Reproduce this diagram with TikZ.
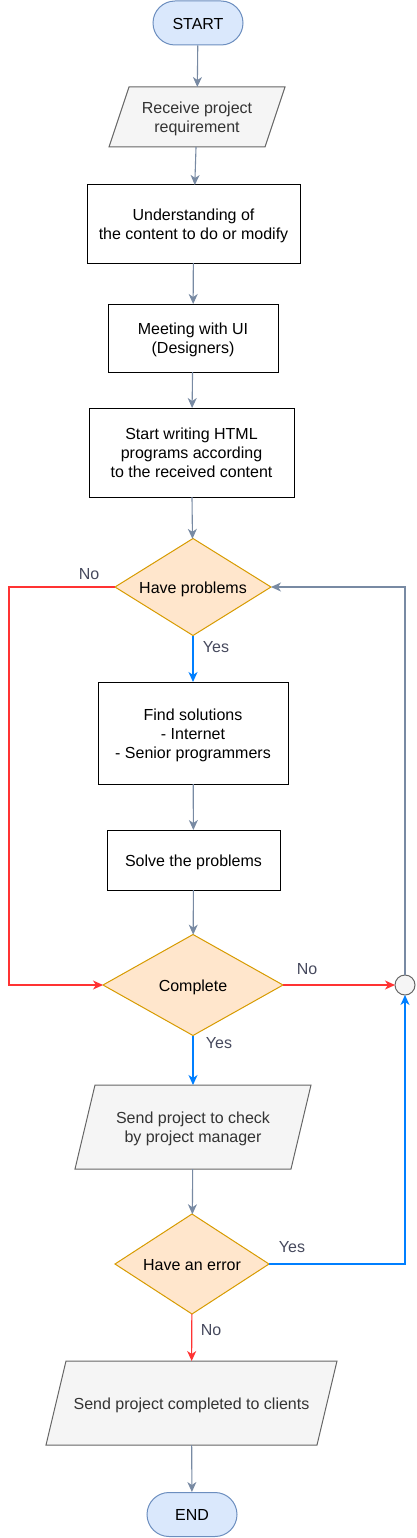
\documentclass[tikz,border=0pt]{standalone}
\usepackage{fontspec}
\setmainfont{Liberation Sans}
\usetikzlibrary{arrows.meta,shapes.geometric}
\pgfdeclarelayer{bg}
\pgfsetlayers{bg,main}
\definecolor{termfill}{HTML}{DAE8FC}
\definecolor{termline}{HTML}{6C8EBF}
\definecolor{iofill}{HTML}{F5F5F5}
\definecolor{ioline}{HTML}{666666}
\definecolor{iotext}{HTML}{333333}
\definecolor{decfill}{HTML}{FFE6CC}
\definecolor{decline}{HTML}{D79B00}
\definecolor{flowgray}{HTML}{788AA3}
\definecolor{flowred}{HTML}{FF3333}
\definecolor{flowblue}{HTML}{007FFF}
\definecolor{lbltext}{HTML}{46495D}
\newcommand\iopoly[1]{\begin{pgfonlayer}{bg}\draw[iobox] ([xshift=20pt]#1.north west) -- (#1.north east) -- ([xshift=-20pt]#1.south east) -- (#1.south west) -- cycle;\end{pgfonlayer}}
\newcommand\tx[1]{\raisebox{0pt}[\dimexpr\height+5pt\relax][\depth]{\begin{tabular}{@{}c@{}}#1\end{tabular}}}
\begin{document}
\begin{tikzpicture}[x=1pt,y=-1pt,
  basefont/.style={font=\fontsize{16}{19}\selectfont, align=center},
  term/.style={basefont, draw=termline, fill=termfill, line width=1pt, rounded corners=22pt, minimum width=90pt, minimum height=44pt, inner sep=0pt},
  proc/.style={basefont, draw=black, fill=white, line width=1pt, inner sep=0pt, outer sep=0pt},
  iotxt/.style={basefont, text=iotext, draw=none, inner sep=0pt, outer sep=0pt},
  iobox/.style={draw=ioline, fill=iofill, line width=1pt},
  dec/.style={basefont, diamond, aspect=1.8, draw=decline, fill=decfill, line width=1pt, inner sep=0pt, outer sep=0pt},
  junc/.style={circle, draw=ioline, fill=iofill, line width=1pt, minimum size=20pt, inner sep=0pt, outer sep=0pt},
  flow/.style={draw=flowgray, line width=1.1pt, -{Stealth[length=10pt,width=9pt,inset=3pt]}},
  rflow/.style={draw=flowred, line width=1.1pt, -{Stealth[length=10pt,width=9pt,inset=3pt]}},
  bflow/.style={draw=flowblue, line width=1.1pt, -{Stealth[length=10pt,width=9pt,inset=3pt]}},
  lbl/.style={font=\fontsize{16}{19}\selectfont, text=lbltext, inner sep=0pt}
]
\useasboundingbox (0,0) rectangle (417,1538);

\node[term] (start) at (198,23) {\tx{START}};
\node[iotxt, minimum width=176pt, minimum height=60pt] (recv) at (197,117) {\tx{Receive project\\requirement}};
\iopoly{recv}
\node[proc, minimum width=213pt, minimum height=78pt] (und) at (193.5,224) {\tx{Understanding of\\the content to do or modify}};
\node[proc, minimum width=170pt, minimum height=68pt] (meet) at (193,338) {\tx{Meeting with UI\\(Designers)}};
\node[proc, minimum width=205pt, minimum height=89pt] (html) at (191.5,452.5) {\tx{Start writing HTML\\programs according\\to the received content}};
\node[dec, minimum width=156pt, minimum height=97pt] (hp) at (193,587) {\tx{Have problems}};
\node[proc, minimum width=190pt, minimum height=102pt] (find) at (193,733) {\tx{Find solutions\\- Internet\\- Senior programmers}};
\node[proc, minimum width=173pt, minimum height=60pt] (solve) at (193.5,860) {\tx{Solve the problems}};
\node[dec, minimum width=180pt, minimum height=101pt] (comp) at (193,985) {\tx{Complete}};
\node[junc] (circ) at (405,985) {};
\node[iotxt, minimum width=236pt, minimum height=84pt] (send) at (193,1127) {\tx{Send project to check\\by project manager}};
\iopoly{send}
\node[dec, minimum width=154pt, minimum height=100pt] (err) at (192,1264) {\tx{Have an error}};
\node[iotxt, minimum width=291pt, minimum height=84pt] (done) at (191.5,1403) {\tx{Send project completed to clients}};
\iopoly{done}
\node[term] (end) at (192,1514.5) {\tx{END}};

\coordinate (lx) at (9,587);

\draw[flow] (start) -- (recv);
\draw[flow] (recv) -- (und);
\draw[flow] (und) -- (meet);
\draw[flow] (meet) -- (html);
\draw[flow] (html) -- (hp);
\draw[bflow] (hp) -- (find);
\draw[flow] (find) -- (solve);
\draw[flow] (solve) -- (comp);
\draw[rflow] (hp.west) -- (lx) |- (comp.west);
\draw[rflow] (comp.east) -- (circ.west);
\draw[flow] (circ.north) |- (hp.east);
\draw[bflow] (comp) -- (send);
\draw[flow] (send) -- (err);
\draw[bflow] (err.east) -| (circ.south);
\draw[rflow] (err) -- (done);
\draw[flow] (done) -- (end);

\node[lbl] (lno1) at (89,574) {No};
\node[lbl] (lyes1) at (216,647) {Yes};
\node[lbl] (lno2) at (307,969) {No};
\node[lbl] (lyes2) at (219,1043) {Yes};
\node[lbl] (lyes3) at (292,1247) {Yes};
\node[lbl] (lno3) at (211,1330) {No};
\end{tikzpicture}
\end{document}
